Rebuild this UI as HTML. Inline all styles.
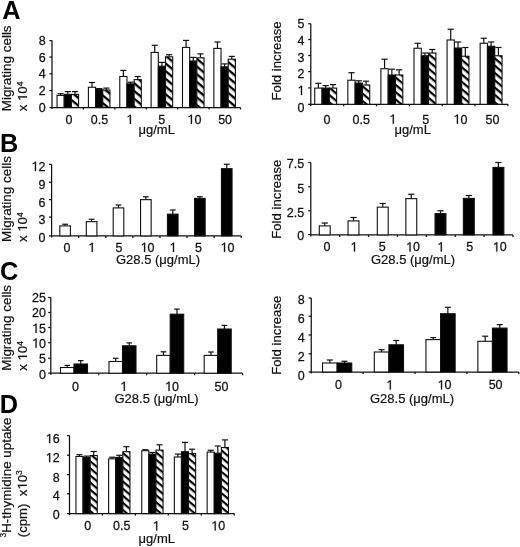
<!DOCTYPE html>
<html><head><meta charset="utf-8"><title>Figure</title>
<style>
html,body{margin:0;padding:0;background:#fff;}
body{width:520px;height:547px;overflow:hidden;}
svg{display:block;will-change:transform;}
.t{font-family:"Liberation Sans", sans-serif;font-size:13px;fill:#111;stroke:#111;stroke-width:0.2px;}
.n{font-family:"Liberation Sans", sans-serif;font-size:12.5px;fill:#111;stroke:#111;stroke-width:0.25px;}
.r{font-family:"Liberation Sans", sans-serif;font-size:13.2px;fill:#111;stroke:#111;stroke-width:0.2px;}
.L{font-family:"Liberation Sans", sans-serif;font-size:25.3px;font-weight:bold;fill:#000;}
.ax{stroke:#111;stroke-width:1.25;fill:none;}
.eb{stroke:#111;stroke-width:1.2;fill:none;}
.br{stroke:#111;stroke-width:1.1;}
</style></head>
<body>
<svg width="520" height="547" viewBox="0 0 520 547">
<defs>
<pattern id="hAL" patternUnits="userSpaceOnUse" width="20" height="5.90" patternTransform="rotate(40)"><rect x="0" y="0" width="20" height="5.90" fill="#fff"/><rect x="0" y="0" width="20" height="2.30" fill="#000"/></pattern>
<pattern id="hAR" patternUnits="userSpaceOnUse" width="20" height="5.60" patternTransform="rotate(40)"><rect x="0" y="0" width="20" height="5.60" fill="#fff"/><rect x="0" y="0" width="20" height="2.20" fill="#000"/></pattern>
<pattern id="hD" patternUnits="userSpaceOnUse" width="20" height="5.45" patternTransform="rotate(40)"><rect x="0" y="0" width="20" height="5.45" fill="#fff"/><rect x="0" y="0" width="20" height="2.15" fill="#000"/></pattern>
</defs>
<rect x="0" y="0" width="520" height="547" fill="#fff"/>
<text x="2.3" y="19.4" class="L">A</text>
<text x="0" y="152" class="L">B</text>
<text x="0" y="280" class="L">C</text>
<text x="-0.2" y="412.9" class="L">D</text>
<line x1="52" y1="40.6" x2="52" y2="109.1" class="ax"/>
<line x1="49.4" y1="107.5" x2="52" y2="107.5" class="ax"/>
<text transform="translate(45.6,111.98) scale(1,1.07)" class="n" text-anchor="end">0</text>
<line x1="49.4" y1="90.6" x2="52" y2="90.6" class="ax"/>
<text transform="translate(45.6,95.43) scale(1,1.07)" class="n" text-anchor="end">2</text>
<line x1="49.4" y1="73.8" x2="52" y2="73.8" class="ax"/>
<text transform="translate(45.6,78.33) scale(1,1.07)" class="n" text-anchor="end">4</text>
<line x1="49.4" y1="57.1" x2="52" y2="57.1" class="ax"/>
<text transform="translate(45.6,61.98) scale(1,1.07)" class="n" text-anchor="end">6</text>
<line x1="49.4" y1="40.6" x2="52" y2="40.6" class="ax"/>
<text transform="translate(45.6,45.33) scale(1,1.07)" class="n" text-anchor="end">8</text>
<line x1="51.5" y1="107.5" x2="240.5" y2="107.5" class="ax"/>
<line x1="83.42" y1="107.5" x2="83.42" y2="109.5" class="ax"/>
<line x1="114.83" y1="107.5" x2="114.83" y2="109.5" class="ax"/>
<line x1="146.25" y1="107.5" x2="146.25" y2="109.5" class="ax"/>
<line x1="177.67" y1="107.5" x2="177.67" y2="109.5" class="ax"/>
<line x1="209.08" y1="107.5" x2="209.08" y2="109.5" class="ax"/>
<line x1="240.5" y1="107.5" x2="240.5" y2="109.5" class="ax"/>
<line x1="60.64" y1="93.75" x2="60.64" y2="95.4" class="eb"/>
<line x1="57.59" y1="93.75" x2="63.69" y2="93.75" class="eb"/>
<rect x="57.05" y="95.4" width="7.18" height="12.1" fill="#fff" class="br"/>
<line x1="67.82" y1="91.6" x2="67.82" y2="94.4" class="eb"/>
<line x1="64.77" y1="91.6" x2="70.87" y2="91.6" class="eb"/>
<rect x="64.23" y="94.4" width="7.18" height="13.1" fill="#000" class="br"/>
<line x1="75" y1="91.6" x2="75" y2="94.4" class="eb"/>
<line x1="71.95" y1="91.6" x2="78.05" y2="91.6" class="eb"/>
<rect x="71.41" y="94.4" width="7.18" height="13.1" fill="url(#hAL)" class="br"/>
<line x1="92" y1="82.5" x2="92" y2="87.25" class="eb"/>
<line x1="88.95" y1="82.5" x2="95.05" y2="82.5" class="eb"/>
<rect x="88.41" y="87.25" width="7.18" height="20.25" fill="#fff" class="br"/>
<line x1="99.18" y1="88.6" x2="99.18" y2="89.4" class="eb"/>
<line x1="96.13" y1="88.6" x2="102.23" y2="88.6" class="eb"/>
<rect x="95.59" y="89.4" width="7.18" height="18.1" fill="#000" class="br"/>
<line x1="106.36" y1="88.1" x2="106.36" y2="90" class="eb"/>
<line x1="103.31" y1="88.1" x2="109.41" y2="88.1" class="eb"/>
<rect x="102.77" y="90" width="7.18" height="17.5" fill="url(#hAL)" class="br"/>
<line x1="123.36" y1="70.4" x2="123.36" y2="76.5" class="eb"/>
<line x1="120.31" y1="70.4" x2="126.41" y2="70.4" class="eb"/>
<rect x="119.77" y="76.5" width="7.18" height="31" fill="#fff" class="br"/>
<line x1="130.54" y1="82.2" x2="130.54" y2="83.9" class="eb"/>
<line x1="127.49" y1="82.2" x2="133.59" y2="82.2" class="eb"/>
<rect x="126.95" y="83.9" width="7.18" height="23.6" fill="#000" class="br"/>
<line x1="137.72" y1="76.5" x2="137.72" y2="79.6" class="eb"/>
<line x1="134.67" y1="76.5" x2="140.77" y2="76.5" class="eb"/>
<rect x="134.13" y="79.6" width="7.18" height="27.9" fill="url(#hAL)" class="br"/>
<line x1="154.72" y1="45.3" x2="154.72" y2="52.4" class="eb"/>
<line x1="151.67" y1="45.3" x2="157.77" y2="45.3" class="eb"/>
<rect x="151.13" y="52.4" width="7.18" height="55.1" fill="#fff" class="br"/>
<line x1="161.9" y1="62.4" x2="161.9" y2="66.2" class="eb"/>
<line x1="158.85" y1="62.4" x2="164.95" y2="62.4" class="eb"/>
<rect x="158.31" y="66.2" width="7.18" height="41.3" fill="#000" class="br"/>
<line x1="169.08" y1="54.7" x2="169.08" y2="56.8" class="eb"/>
<line x1="166.03" y1="54.7" x2="172.13" y2="54.7" class="eb"/>
<rect x="165.49" y="56.8" width="7.18" height="50.7" fill="url(#hAL)" class="br"/>
<line x1="186.08" y1="40.4" x2="186.08" y2="47.4" class="eb"/>
<line x1="183.03" y1="40.4" x2="189.13" y2="40.4" class="eb"/>
<rect x="182.49" y="47.4" width="7.18" height="60.1" fill="#fff" class="br"/>
<line x1="193.26" y1="57.4" x2="193.26" y2="61" class="eb"/>
<line x1="190.21" y1="57.4" x2="196.31" y2="57.4" class="eb"/>
<rect x="189.67" y="61" width="7.18" height="46.5" fill="#000" class="br"/>
<line x1="200.44" y1="53.9" x2="200.44" y2="57.8" class="eb"/>
<line x1="197.39" y1="53.9" x2="203.49" y2="53.9" class="eb"/>
<rect x="196.85" y="57.8" width="7.18" height="49.7" fill="url(#hAL)" class="br"/>
<line x1="217.44" y1="42" x2="217.44" y2="48.4" class="eb"/>
<line x1="214.39" y1="42" x2="220.49" y2="42" class="eb"/>
<rect x="213.85" y="48.4" width="7.18" height="59.1" fill="#fff" class="br"/>
<line x1="224.62" y1="63.9" x2="224.62" y2="66.8" class="eb"/>
<line x1="221.57" y1="63.9" x2="227.67" y2="63.9" class="eb"/>
<rect x="221.03" y="66.8" width="7.18" height="40.7" fill="#000" class="br"/>
<line x1="231.8" y1="56.4" x2="231.8" y2="59.2" class="eb"/>
<line x1="228.75" y1="56.4" x2="234.85" y2="56.4" class="eb"/>
<rect x="228.21" y="59.2" width="7.18" height="48.3" fill="url(#hAL)" class="br"/>
<text transform="translate(69,123.88) scale(1,1.07)" class="n" text-anchor="middle">0</text>
<text transform="translate(99.4,123.88) scale(1,1.07)" class="n" text-anchor="middle">0.5</text>
<text transform="translate(129.9,123.88) scale(1,1.07)" class="n" text-anchor="middle">&#8199;</text><g transform="translate(129.9,123.88) scale(1,1.07)" fill="#111" stroke="#111" stroke-width="0.25"><path d="M-0.06 0.00V-7.45Q-0.55 -6.96 -1.16 -6.62Q-1.71 -6.32 -2.17 -6.16V-7.14Q-1.28 -7.51 -0.73 -7.93Q-0.18 -8.36 0.06 -8.60H1.04V0.00Z"/></g>
<text transform="translate(161.6,123.88) scale(1,1.07)" class="n" text-anchor="middle">5</text>
<text transform="translate(194.4,123.88) scale(1,1.07)" class="n" text-anchor="middle">&#8199;0</text><g transform="translate(194.4,123.88) scale(1,1.07)" fill="#111" stroke="#111" stroke-width="0.25"><path d="M-3.53 0.00V-7.45Q-4.02 -6.96 -4.63 -6.62Q-5.18 -6.32 -5.64 -6.16V-7.14Q-4.75 -7.51 -4.20 -7.93Q-3.65 -8.36 -3.41 -8.60H-2.43V0.00Z"/></g>
<text transform="translate(225.1,123.88) scale(1,1.07)" class="n" text-anchor="middle">50</text>
<text x="156.7" y="133.5" class="t" text-anchor="middle">μg/mL</text>
<text transform="translate(11,111.3) rotate(-90)" class="r" style="font-size:13.45px" text-anchor="start">Migrating cells</text>
<text transform="translate(27,111.3) rotate(-90)" class="r" text-anchor="start">x &#8199;0<tspan font-size="8.5" dy="-3.8">4</tspan></text><g transform="translate(27,111.3) rotate(-90)" fill="#111" stroke="#111" stroke-width="0.2"><path d="M13.86 0.00V-7.86Q13.34 -7.35 12.70 -6.99Q12.12 -6.67 11.64 -6.51V-7.54Q12.57 -7.93 13.15 -8.38Q13.73 -8.83 13.99 -9.08H15.03V0.00Z"/></g>
<line x1="310.8" y1="23.75" x2="310.8" y2="105.9" class="ax"/>
<line x1="308.2" y1="104.3" x2="310.8" y2="104.3" class="ax"/>
<text transform="translate(304.5,111.88) scale(1,1.07)" class="n" text-anchor="end">0</text>
<line x1="308.2" y1="87.9" x2="310.8" y2="87.9" class="ax"/>
<text transform="translate(304.5,94.98) scale(1,1.07)" class="n" text-anchor="end">&#8199;</text><g transform="translate(304.5,94.98) scale(1,1.07)" fill="#111" stroke="#111" stroke-width="0.25"><path d="M-3.54 0.00V-7.45Q-4.03 -6.96 -4.64 -6.62Q-5.19 -6.32 -5.64 -6.16V-7.14Q-4.76 -7.51 -4.21 -7.93Q-3.66 -8.36 -3.42 -8.60H-2.43V0.00Z"/></g>
<line x1="308.2" y1="71.6" x2="310.8" y2="71.6" class="ax"/>
<text transform="translate(304.5,78.38) scale(1,1.07)" class="n" text-anchor="end">2</text>
<line x1="308.2" y1="55.5" x2="310.8" y2="55.5" class="ax"/>
<text transform="translate(304.5,61.68) scale(1,1.07)" class="n" text-anchor="end">3</text>
<line x1="308.2" y1="39.5" x2="310.8" y2="39.5" class="ax"/>
<text transform="translate(304.5,44.78) scale(1,1.07)" class="n" text-anchor="end">4</text>
<line x1="308.2" y1="23.75" x2="310.8" y2="23.75" class="ax"/>
<text transform="translate(304.5,28.38) scale(1,1.07)" class="n" text-anchor="end">5</text>
<line x1="310.3" y1="104.3" x2="507.9" y2="104.3" class="ax"/>
<line x1="343.65" y1="104.3" x2="343.65" y2="106.3" class="ax"/>
<line x1="376.5" y1="104.3" x2="376.5" y2="106.3" class="ax"/>
<line x1="409.35" y1="104.3" x2="409.35" y2="106.3" class="ax"/>
<line x1="442.2" y1="104.3" x2="442.2" y2="106.3" class="ax"/>
<line x1="475.05" y1="104.3" x2="475.05" y2="106.3" class="ax"/>
<line x1="507.9" y1="104.3" x2="507.9" y2="106.3" class="ax"/>
<line x1="318.4" y1="83.3" x2="318.4" y2="88.1" class="eb"/>
<line x1="315.3" y1="83.3" x2="321.5" y2="83.3" class="eb"/>
<rect x="314.75" y="88.1" width="7.3" height="16.2" fill="#fff" class="br"/>
<line x1="325.7" y1="85.6" x2="325.7" y2="88.1" class="eb"/>
<line x1="322.6" y1="85.6" x2="328.8" y2="85.6" class="eb"/>
<rect x="322.05" y="88.1" width="7.3" height="16.2" fill="#000" class="br"/>
<line x1="333" y1="84.6" x2="333" y2="88.1" class="eb"/>
<line x1="329.9" y1="84.6" x2="336.1" y2="84.6" class="eb"/>
<rect x="329.35" y="88.1" width="7.3" height="16.2" fill="url(#hAR)" class="br"/>
<line x1="351.48" y1="72.7" x2="351.48" y2="80.2" class="eb"/>
<line x1="348.38" y1="72.7" x2="354.58" y2="72.7" class="eb"/>
<rect x="347.83" y="80.2" width="7.3" height="24.1" fill="#fff" class="br"/>
<line x1="358.78" y1="80.8" x2="358.78" y2="83.1" class="eb"/>
<line x1="355.68" y1="80.8" x2="361.88" y2="80.8" class="eb"/>
<rect x="355.13" y="83.1" width="7.3" height="21.2" fill="#000" class="br"/>
<line x1="366.08" y1="81.2" x2="366.08" y2="85" class="eb"/>
<line x1="362.98" y1="81.2" x2="369.18" y2="81.2" class="eb"/>
<rect x="362.43" y="85" width="7.3" height="19.3" fill="url(#hAR)" class="br"/>
<line x1="384.56" y1="59.2" x2="384.56" y2="68.7" class="eb"/>
<line x1="381.46" y1="59.2" x2="387.66" y2="59.2" class="eb"/>
<rect x="380.91" y="68.7" width="7.3" height="35.6" fill="#fff" class="br"/>
<line x1="391.86" y1="69.2" x2="391.86" y2="75" class="eb"/>
<line x1="388.76" y1="69.2" x2="394.96" y2="69.2" class="eb"/>
<rect x="388.21" y="75" width="7.3" height="29.3" fill="#000" class="br"/>
<line x1="399.16" y1="69.8" x2="399.16" y2="75" class="eb"/>
<line x1="396.06" y1="69.8" x2="402.26" y2="69.8" class="eb"/>
<rect x="395.51" y="75" width="7.3" height="29.3" fill="url(#hAR)" class="br"/>
<line x1="417.64" y1="43.25" x2="417.64" y2="48.25" class="eb"/>
<line x1="414.54" y1="43.25" x2="420.74" y2="43.25" class="eb"/>
<rect x="413.99" y="48.25" width="7.3" height="56.05" fill="#fff" class="br"/>
<line x1="424.94" y1="53" x2="424.94" y2="55.75" class="eb"/>
<line x1="421.84" y1="53" x2="428.04" y2="53" class="eb"/>
<rect x="421.29" y="55.75" width="7.3" height="48.55" fill="#000" class="br"/>
<line x1="432.24" y1="49.5" x2="432.24" y2="53" class="eb"/>
<line x1="429.14" y1="49.5" x2="435.34" y2="49.5" class="eb"/>
<rect x="428.59" y="53" width="7.3" height="51.3" fill="url(#hAR)" class="br"/>
<line x1="450.72" y1="29.25" x2="450.72" y2="40" class="eb"/>
<line x1="447.62" y1="29.25" x2="453.82" y2="29.25" class="eb"/>
<rect x="447.07" y="40" width="7.3" height="64.3" fill="#fff" class="br"/>
<line x1="458.02" y1="42" x2="458.02" y2="48" class="eb"/>
<line x1="454.92" y1="42" x2="461.12" y2="42" class="eb"/>
<rect x="454.37" y="48" width="7.3" height="56.3" fill="#000" class="br"/>
<line x1="465.32" y1="47.5" x2="465.32" y2="56.25" class="eb"/>
<line x1="462.22" y1="47.5" x2="468.42" y2="47.5" class="eb"/>
<rect x="461.67" y="56.25" width="7.3" height="48.05" fill="url(#hAR)" class="br"/>
<line x1="483.8" y1="38.25" x2="483.8" y2="43.25" class="eb"/>
<line x1="480.7" y1="38.25" x2="486.9" y2="38.25" class="eb"/>
<rect x="480.15" y="43.25" width="7.3" height="61.05" fill="#fff" class="br"/>
<line x1="491.1" y1="42" x2="491.1" y2="46.25" class="eb"/>
<line x1="488" y1="42" x2="494.2" y2="42" class="eb"/>
<rect x="487.45" y="46.25" width="7.3" height="58.05" fill="#000" class="br"/>
<line x1="498.4" y1="47.5" x2="498.4" y2="55.75" class="eb"/>
<line x1="495.3" y1="47.5" x2="501.5" y2="47.5" class="eb"/>
<rect x="494.75" y="55.75" width="7.3" height="48.55" fill="url(#hAR)" class="br"/>
<text transform="translate(327,123.68) scale(1,1.07)" class="n" text-anchor="middle">0</text>
<text transform="translate(361.2,123.68) scale(1,1.07)" class="n" text-anchor="middle">0.5</text>
<text transform="translate(392.8,123.68) scale(1,1.07)" class="n" text-anchor="middle">&#8199;</text><g transform="translate(392.8,123.68) scale(1,1.07)" fill="#111" stroke="#111" stroke-width="0.25"><path d="M-0.06 0.00V-7.45Q-0.55 -6.96 -1.16 -6.62Q-1.71 -6.32 -2.17 -6.16V-7.14Q-1.28 -7.51 -0.73 -7.93Q-0.18 -8.36 0.06 -8.60H1.04V0.00Z"/></g>
<text transform="translate(425.8,123.68) scale(1,1.07)" class="n" text-anchor="middle">5</text>
<text transform="translate(460.4,123.68) scale(1,1.07)" class="n" text-anchor="middle">&#8199;0</text><g transform="translate(460.4,123.68) scale(1,1.07)" fill="#111" stroke="#111" stroke-width="0.25"><path d="M-3.53 0.00V-7.45Q-4.02 -6.96 -4.63 -6.62Q-5.18 -6.32 -5.64 -6.16V-7.14Q-4.75 -7.51 -4.20 -7.93Q-3.65 -8.36 -3.41 -8.60H-2.43V0.00Z"/></g>
<text transform="translate(492.5,123.68) scale(1,1.07)" class="n" text-anchor="middle">50</text>
<text x="412.7" y="134.2" class="t" text-anchor="middle">μg/mL</text>
<text transform="translate(281,100.5) rotate(-90)" class="r" text-anchor="start">Fold increase</text>
<line x1="51.6" y1="164.4" x2="51.6" y2="237.5" class="ax"/>
<line x1="49" y1="235.9" x2="51.6" y2="235.9" class="ax"/>
<text transform="translate(45.4,242.18) scale(1,1.07)" class="n" text-anchor="end">0</text>
<line x1="49" y1="217.1" x2="51.6" y2="217.1" class="ax"/>
<text transform="translate(45.4,224.38) scale(1,1.07)" class="n" text-anchor="end">3</text>
<line x1="49" y1="199.6" x2="51.6" y2="199.6" class="ax"/>
<text transform="translate(45.4,206.68) scale(1,1.07)" class="n" text-anchor="end">6</text>
<line x1="49" y1="182.2" x2="51.6" y2="182.2" class="ax"/>
<text transform="translate(45.4,188.68) scale(1,1.07)" class="n" text-anchor="end">9</text>
<line x1="49" y1="164.4" x2="51.6" y2="164.4" class="ax"/>
<text transform="translate(45.4,170.88) scale(1,1.07)" class="n" text-anchor="end">&#8199;2</text><g transform="translate(45.4,170.88) scale(1,1.07)" fill="#111" stroke="#111" stroke-width="0.25"><path d="M-10.48 0.00V-7.45Q-10.97 -6.96 -11.58 -6.62Q-12.13 -6.32 -12.58 -6.16V-7.14Q-11.70 -7.51 -11.15 -7.93Q-10.60 -8.36 -10.36 -8.60H-9.37V0.00Z"/></g>
<line x1="51.1" y1="235.9" x2="241.25" y2="235.9" class="ax"/>
<line x1="78.69" y1="235.9" x2="78.69" y2="237.9" class="ax"/>
<line x1="105.79" y1="235.9" x2="105.79" y2="237.9" class="ax"/>
<line x1="132.88" y1="235.9" x2="132.88" y2="237.9" class="ax"/>
<line x1="159.97" y1="235.9" x2="159.97" y2="237.9" class="ax"/>
<line x1="187.06" y1="235.9" x2="187.06" y2="237.9" class="ax"/>
<line x1="214.16" y1="235.9" x2="214.16" y2="237.9" class="ax"/>
<line x1="241.25" y1="235.9" x2="241.25" y2="237.9" class="ax"/>
<line x1="65.1" y1="224.25" x2="65.1" y2="225.9" class="eb"/>
<line x1="62.2" y1="224.25" x2="68" y2="224.25" class="eb"/>
<rect x="59.8" y="225.9" width="10.6" height="10" fill="#fff" class="br"/>
<line x1="91.6" y1="219.25" x2="91.6" y2="221.65" class="eb"/>
<line x1="88.7" y1="219.25" x2="94.5" y2="219.25" class="eb"/>
<rect x="86.3" y="221.65" width="10.6" height="14.25" fill="#fff" class="br"/>
<line x1="118.5" y1="205" x2="118.5" y2="207.9" class="eb"/>
<line x1="115.6" y1="205" x2="121.4" y2="205" class="eb"/>
<rect x="113.2" y="207.9" width="10.6" height="28" fill="#fff" class="br"/>
<line x1="145.85" y1="196.75" x2="145.85" y2="199.65" class="eb"/>
<line x1="142.95" y1="196.75" x2="148.75" y2="196.75" class="eb"/>
<rect x="140.55" y="199.65" width="10.6" height="36.25" fill="#fff" class="br"/>
<line x1="172.75" y1="210" x2="172.75" y2="214.15" class="eb"/>
<line x1="169.85" y1="210" x2="175.65" y2="210" class="eb"/>
<rect x="167.45" y="214.15" width="10.6" height="21.75" fill="#000" class="br"/>
<line x1="199.85" y1="196.75" x2="199.85" y2="198.4" class="eb"/>
<line x1="196.95" y1="196.75" x2="202.75" y2="196.75" class="eb"/>
<rect x="194.55" y="198.4" width="10.6" height="37.5" fill="#000" class="br"/>
<line x1="226.75" y1="164.25" x2="226.75" y2="168.65" class="eb"/>
<line x1="223.85" y1="164.25" x2="229.65" y2="164.25" class="eb"/>
<rect x="221.45" y="168.65" width="10.6" height="67.25" fill="#000" class="br"/>
<text transform="translate(66.9,251.98) scale(1,1.07)" class="n" text-anchor="middle">0</text>
<text transform="translate(91.8,251.98) scale(1,1.07)" class="n" text-anchor="middle">&#8199;</text><g transform="translate(91.8,251.98) scale(1,1.07)" fill="#111" stroke="#111" stroke-width="0.25"><path d="M-0.06 0.00V-7.45Q-0.55 -6.96 -1.16 -6.62Q-1.71 -6.32 -2.17 -6.16V-7.14Q-1.28 -7.51 -0.73 -7.93Q-0.18 -8.36 0.06 -8.60H1.04V0.00Z"/></g>
<text transform="translate(119,251.98) scale(1,1.07)" class="n" text-anchor="middle">5</text>
<text transform="translate(147.6,251.98) scale(1,1.07)" class="n" text-anchor="middle">&#8199;0</text><g transform="translate(147.6,251.98) scale(1,1.07)" fill="#111" stroke="#111" stroke-width="0.25"><path d="M-3.53 0.00V-7.45Q-4.02 -6.96 -4.63 -6.62Q-5.18 -6.32 -5.64 -6.16V-7.14Q-4.75 -7.51 -4.20 -7.93Q-3.65 -8.36 -3.41 -8.60H-2.43V0.00Z"/></g>
<text transform="translate(173,251.98) scale(1,1.07)" class="n" text-anchor="middle">&#8199;</text><g transform="translate(173,251.98) scale(1,1.07)" fill="#111" stroke="#111" stroke-width="0.25"><path d="M-0.06 0.00V-7.45Q-0.55 -6.96 -1.16 -6.62Q-1.71 -6.32 -2.17 -6.16V-7.14Q-1.28 -7.51 -0.73 -7.93Q-0.18 -8.36 0.06 -8.60H1.04V0.00Z"/></g>
<text transform="translate(198.4,251.98) scale(1,1.07)" class="n" text-anchor="middle">5</text>
<text transform="translate(227.5,251.98) scale(1,1.07)" class="n" text-anchor="middle">&#8199;0</text><g transform="translate(227.5,251.98) scale(1,1.07)" fill="#111" stroke="#111" stroke-width="0.25"><path d="M-3.53 0.00V-7.45Q-4.02 -6.96 -4.63 -6.62Q-5.18 -6.32 -5.64 -6.16V-7.14Q-4.75 -7.51 -4.20 -7.93Q-3.65 -8.36 -3.41 -8.60H-2.43V0.00Z"/></g>
<text x="158" y="264.4" class="t" text-anchor="middle">G28.5 (μg/mL)</text>
<text transform="translate(10.8,242) rotate(-90)" class="r" style="font-size:13.45px" text-anchor="start">Migrating cells</text>
<text transform="translate(27,242) rotate(-90)" class="r" text-anchor="start">x &#8199;0<tspan font-size="8.5" dy="-3.8">4</tspan></text><g transform="translate(27,242) rotate(-90)" fill="#111" stroke="#111" stroke-width="0.2"><path d="M13.86 0.00V-7.86Q13.34 -7.35 12.70 -6.99Q12.12 -6.67 11.64 -6.51V-7.54Q12.57 -7.93 13.15 -8.38Q13.73 -8.83 13.99 -9.08H15.03V0.00Z"/></g>
<line x1="310.8" y1="162.5" x2="310.8" y2="236.5" class="ax"/>
<line x1="308.2" y1="234.6" x2="310.8" y2="234.6" class="ax"/>
<text transform="translate(304.1,239.88) scale(1,1.07)" class="n" text-anchor="end">0</text>
<line x1="308.2" y1="210.75" x2="310.8" y2="210.75" class="ax"/>
<text transform="translate(304.1,217.08) scale(1,1.07)" class="n" text-anchor="end">2.5</text>
<line x1="308.2" y1="186.75" x2="310.8" y2="186.75" class="ax"/>
<text transform="translate(304.1,193.18) scale(1,1.07)" class="n" text-anchor="end">5</text>
<line x1="308.2" y1="162.5" x2="310.8" y2="162.5" class="ax"/>
<text transform="translate(304.1,167.78) scale(1,1.07)" class="n" text-anchor="end">7.5</text>
<line x1="310.3" y1="234.9" x2="513" y2="234.9" class="ax"/>
<line x1="339.69" y1="234.9" x2="339.69" y2="236.9" class="ax"/>
<line x1="368.57" y1="234.9" x2="368.57" y2="236.9" class="ax"/>
<line x1="397.46" y1="234.9" x2="397.46" y2="236.9" class="ax"/>
<line x1="426.34" y1="234.9" x2="426.34" y2="236.9" class="ax"/>
<line x1="455.23" y1="234.9" x2="455.23" y2="236.9" class="ax"/>
<line x1="484.11" y1="234.9" x2="484.11" y2="236.9" class="ax"/>
<line x1="513" y1="234.9" x2="513" y2="236.9" class="ax"/>
<line x1="324.75" y1="223" x2="324.75" y2="225.9" class="eb"/>
<line x1="321.65" y1="223" x2="327.85" y2="223" class="eb"/>
<rect x="319.3" y="225.9" width="10.9" height="9" fill="#fff" class="br"/>
<line x1="353.5" y1="217.5" x2="353.5" y2="220.9" class="eb"/>
<line x1="350.4" y1="217.5" x2="356.6" y2="217.5" class="eb"/>
<rect x="348.05" y="220.9" width="10.9" height="14" fill="#fff" class="br"/>
<line x1="382.75" y1="203.5" x2="382.75" y2="207.15" class="eb"/>
<line x1="379.65" y1="203.5" x2="385.85" y2="203.5" class="eb"/>
<rect x="377.3" y="207.15" width="10.9" height="27.75" fill="#fff" class="br"/>
<line x1="411.3" y1="194.25" x2="411.3" y2="198.65" class="eb"/>
<line x1="408.2" y1="194.25" x2="414.4" y2="194.25" class="eb"/>
<rect x="405.85" y="198.65" width="10.9" height="36.25" fill="#fff" class="br"/>
<line x1="440.5" y1="210.75" x2="440.5" y2="213.65" class="eb"/>
<line x1="437.4" y1="210.75" x2="443.6" y2="210.75" class="eb"/>
<rect x="435.05" y="213.65" width="10.9" height="21.25" fill="#000" class="br"/>
<line x1="468.8" y1="195.5" x2="468.8" y2="198.4" class="eb"/>
<line x1="465.7" y1="195.5" x2="471.9" y2="195.5" class="eb"/>
<rect x="463.35" y="198.4" width="10.9" height="36.5" fill="#000" class="br"/>
<line x1="498.4" y1="162.5" x2="498.4" y2="167.4" class="eb"/>
<line x1="495.3" y1="162.5" x2="501.5" y2="162.5" class="eb"/>
<rect x="492.95" y="167.4" width="10.9" height="67.5" fill="#000" class="br"/>
<text transform="translate(326.9,251.48) scale(1,1.07)" class="n" text-anchor="middle">0</text>
<text transform="translate(354,251.48) scale(1,1.07)" class="n" text-anchor="middle">&#8199;</text><g transform="translate(354,251.48) scale(1,1.07)" fill="#111" stroke="#111" stroke-width="0.25"><path d="M-0.06 0.00V-7.45Q-0.55 -6.96 -1.16 -6.62Q-1.71 -6.32 -2.17 -6.16V-7.14Q-1.28 -7.51 -0.73 -7.93Q-0.18 -8.36 0.06 -8.60H1.04V0.00Z"/></g>
<text transform="translate(382.3,251.48) scale(1,1.07)" class="n" text-anchor="middle">5</text>
<text transform="translate(413,251.48) scale(1,1.07)" class="n" text-anchor="middle">&#8199;0</text><g transform="translate(413,251.48) scale(1,1.07)" fill="#111" stroke="#111" stroke-width="0.25"><path d="M-3.53 0.00V-7.45Q-4.02 -6.96 -4.63 -6.62Q-5.18 -6.32 -5.64 -6.16V-7.14Q-4.75 -7.51 -4.20 -7.93Q-3.65 -8.36 -3.41 -8.60H-2.43V0.00Z"/></g>
<text transform="translate(440.8,251.48) scale(1,1.07)" class="n" text-anchor="middle">&#8199;</text><g transform="translate(440.8,251.48) scale(1,1.07)" fill="#111" stroke="#111" stroke-width="0.25"><path d="M-0.06 0.00V-7.45Q-0.55 -6.96 -1.16 -6.62Q-1.71 -6.32 -2.17 -6.16V-7.14Q-1.28 -7.51 -0.73 -7.93Q-0.18 -8.36 0.06 -8.60H1.04V0.00Z"/></g>
<text transform="translate(469.6,251.48) scale(1,1.07)" class="n" text-anchor="middle">5</text>
<text transform="translate(499.8,251.48) scale(1,1.07)" class="n" text-anchor="middle">&#8199;0</text><g transform="translate(499.8,251.48) scale(1,1.07)" fill="#111" stroke="#111" stroke-width="0.25"><path d="M-3.53 0.00V-7.45Q-4.02 -6.96 -4.63 -6.62Q-5.18 -6.32 -5.64 -6.16V-7.14Q-4.75 -7.51 -4.20 -7.93Q-3.65 -8.36 -3.41 -8.60H-2.43V0.00Z"/></g>
<text x="413" y="264.3" class="t" text-anchor="middle">G28.5 (μg/mL)</text>
<text transform="translate(281,238.8) rotate(-90)" class="r" text-anchor="start">Fold increase</text>
<line x1="50.8" y1="297.5" x2="50.8" y2="374.8" class="ax"/>
<line x1="48.2" y1="373.2" x2="50.8" y2="373.2" class="ax"/>
<text transform="translate(46,378.68) scale(1,1.07)" class="n" text-anchor="end">0</text>
<line x1="48.2" y1="358.2" x2="50.8" y2="358.2" class="ax"/>
<text transform="translate(46,363.18) scale(1,1.07)" class="n" text-anchor="end">5</text>
<line x1="48.2" y1="342.7" x2="50.8" y2="342.7" class="ax"/>
<text transform="translate(46,347.68) scale(1,1.07)" class="n" text-anchor="end">&#8199;0</text><g transform="translate(46,347.68) scale(1,1.07)" fill="#111" stroke="#111" stroke-width="0.25"><path d="M-10.48 0.00V-7.45Q-10.97 -6.96 -11.58 -6.62Q-12.13 -6.32 -12.58 -6.16V-7.14Q-11.70 -7.51 -11.15 -7.93Q-10.60 -8.36 -10.36 -8.60H-9.37V0.00Z"/></g>
<line x1="48.2" y1="327.5" x2="50.8" y2="327.5" class="ax"/>
<text transform="translate(46,332.88) scale(1,1.07)" class="n" text-anchor="end">&#8199;5</text><g transform="translate(46,332.88) scale(1,1.07)" fill="#111" stroke="#111" stroke-width="0.25"><path d="M-10.48 0.00V-7.45Q-10.97 -6.96 -11.58 -6.62Q-12.13 -6.32 -12.58 -6.16V-7.14Q-11.70 -7.51 -11.15 -7.93Q-10.60 -8.36 -10.36 -8.60H-9.37V0.00Z"/></g>
<line x1="48.2" y1="312.5" x2="50.8" y2="312.5" class="ax"/>
<text transform="translate(46,317.38) scale(1,1.07)" class="n" text-anchor="end">20</text>
<line x1="48.2" y1="297.5" x2="50.8" y2="297.5" class="ax"/>
<text transform="translate(46,301.68) scale(1,1.07)" class="n" text-anchor="end">25</text>
<line x1="50.3" y1="373.2" x2="242.6" y2="373.2" class="ax"/>
<line x1="98.75" y1="373.2" x2="98.75" y2="375.2" class="ax"/>
<line x1="146.7" y1="373.2" x2="146.7" y2="375.2" class="ax"/>
<line x1="194.65" y1="373.2" x2="194.65" y2="375.2" class="ax"/>
<line x1="242.6" y1="373.2" x2="242.6" y2="375.2" class="ax"/>
<line x1="67.25" y1="365.4" x2="67.25" y2="367.5" class="eb"/>
<line x1="64.45" y1="365.4" x2="70.05" y2="365.4" class="eb"/>
<rect x="60.5" y="367.5" width="13.5" height="5.7" fill="#fff" class="br"/>
<line x1="80.75" y1="360.6" x2="80.75" y2="364" class="eb"/>
<line x1="77.95" y1="360.6" x2="83.55" y2="360.6" class="eb"/>
<rect x="74" y="364" width="13.5" height="9.2" fill="#000" class="br"/>
<line x1="115.75" y1="358.3" x2="115.75" y2="361.5" class="eb"/>
<line x1="112.95" y1="358.3" x2="118.55" y2="358.3" class="eb"/>
<rect x="109" y="361.5" width="13.5" height="11.7" fill="#fff" class="br"/>
<line x1="129.25" y1="342.9" x2="129.25" y2="345.8" class="eb"/>
<line x1="126.45" y1="342.9" x2="132.05" y2="342.9" class="eb"/>
<rect x="122.5" y="345.8" width="13.5" height="27.4" fill="#000" class="br"/>
<line x1="163.45" y1="351.8" x2="163.45" y2="355.4" class="eb"/>
<line x1="160.65" y1="351.8" x2="166.25" y2="351.8" class="eb"/>
<rect x="156.7" y="355.4" width="13.5" height="17.8" fill="#fff" class="br"/>
<line x1="176.95" y1="309.1" x2="176.95" y2="314.2" class="eb"/>
<line x1="174.15" y1="309.1" x2="179.75" y2="309.1" class="eb"/>
<rect x="170.2" y="314.2" width="13.5" height="59" fill="#000" class="br"/>
<line x1="210.95" y1="352" x2="210.95" y2="355.4" class="eb"/>
<line x1="208.15" y1="352" x2="213.75" y2="352" class="eb"/>
<rect x="204.2" y="355.4" width="13.5" height="17.8" fill="#fff" class="br"/>
<line x1="224.45" y1="325.4" x2="224.45" y2="329" class="eb"/>
<line x1="221.65" y1="325.4" x2="227.25" y2="325.4" class="eb"/>
<rect x="217.7" y="329" width="13.5" height="44.2" fill="#000" class="br"/>
<text transform="translate(75.4,390.98) scale(1,1.07)" class="n" text-anchor="middle">0</text>
<text transform="translate(123.8,390.98) scale(1,1.07)" class="n" text-anchor="middle">&#8199;</text><g transform="translate(123.8,390.98) scale(1,1.07)" fill="#111" stroke="#111" stroke-width="0.25"><path d="M-0.06 0.00V-7.45Q-0.55 -6.96 -1.16 -6.62Q-1.71 -6.32 -2.17 -6.16V-7.14Q-1.28 -7.51 -0.73 -7.93Q-0.18 -8.36 0.06 -8.60H1.04V0.00Z"/></g>
<text transform="translate(172,390.98) scale(1,1.07)" class="n" text-anchor="middle">&#8199;0</text><g transform="translate(172,390.98) scale(1,1.07)" fill="#111" stroke="#111" stroke-width="0.25"><path d="M-3.53 0.00V-7.45Q-4.02 -6.96 -4.63 -6.62Q-5.18 -6.32 -5.64 -6.16V-7.14Q-4.75 -7.51 -4.20 -7.93Q-3.65 -8.36 -3.41 -8.60H-2.43V0.00Z"/></g>
<text transform="translate(221.4,390.98) scale(1,1.07)" class="n" text-anchor="middle">50</text>
<text x="156.5" y="402.7" class="t" text-anchor="middle">G28.5 (μg/mL)</text>
<text transform="translate(11,370.8) rotate(-90)" class="r" style="font-size:13.45px" text-anchor="start">Migrating cells</text>
<text transform="translate(27,370.8) rotate(-90)" class="r" text-anchor="start">x &#8199;0<tspan font-size="8.5" dy="-3.8">4</tspan></text><g transform="translate(27,370.8) rotate(-90)" fill="#111" stroke="#111" stroke-width="0.2"><path d="M13.86 0.00V-7.86Q13.34 -7.35 12.70 -6.99Q12.12 -6.67 11.64 -6.51V-7.54Q12.57 -7.93 13.15 -8.38Q13.73 -8.83 13.99 -9.08H15.03V0.00Z"/></g>
<line x1="311.25" y1="298" x2="311.25" y2="373.6" class="ax"/>
<line x1="308.65" y1="372" x2="311.25" y2="372" class="ax"/>
<text transform="translate(304.7,380.18) scale(1,1.07)" class="n" text-anchor="end">0</text>
<line x1="308.65" y1="353.75" x2="311.25" y2="353.75" class="ax"/>
<text transform="translate(304.7,361.38) scale(1,1.07)" class="n" text-anchor="end">2</text>
<line x1="308.65" y1="335" x2="311.25" y2="335" class="ax"/>
<text transform="translate(304.7,342.18) scale(1,1.07)" class="n" text-anchor="end">4</text>
<line x1="308.65" y1="316.25" x2="311.25" y2="316.25" class="ax"/>
<text transform="translate(304.7,322.58) scale(1,1.07)" class="n" text-anchor="end">6</text>
<line x1="308.65" y1="298" x2="311.25" y2="298" class="ax"/>
<text transform="translate(304.7,303.78) scale(1,1.07)" class="n" text-anchor="end">8</text>
<line x1="310.75" y1="372" x2="518.8" y2="372" class="ax"/>
<line x1="363.14" y1="372" x2="363.14" y2="374" class="ax"/>
<line x1="415.02" y1="372" x2="415.02" y2="374" class="ax"/>
<line x1="466.91" y1="372" x2="466.91" y2="374" class="ax"/>
<line x1="518.8" y1="372" x2="518.8" y2="374" class="ax"/>
<line x1="329.85" y1="360" x2="329.85" y2="363" class="eb"/>
<line x1="326.85" y1="360" x2="332.85" y2="360" class="eb"/>
<rect x="322.55" y="363" width="14.6" height="9" fill="#fff" class="br"/>
<line x1="344.45" y1="361.25" x2="344.45" y2="363" class="eb"/>
<line x1="341.45" y1="361.25" x2="347.45" y2="361.25" class="eb"/>
<rect x="337.15" y="363" width="14.6" height="9" fill="#000" class="br"/>
<line x1="381.6" y1="349.7" x2="381.6" y2="352" class="eb"/>
<line x1="378.6" y1="349.7" x2="384.6" y2="349.7" class="eb"/>
<rect x="374.3" y="352" width="14.6" height="20" fill="#fff" class="br"/>
<line x1="396.2" y1="340.5" x2="396.2" y2="344.8" class="eb"/>
<line x1="393.2" y1="340.5" x2="399.2" y2="340.5" class="eb"/>
<rect x="388.9" y="344.8" width="14.6" height="27.2" fill="#000" class="br"/>
<line x1="433.25" y1="337.6" x2="433.25" y2="339.6" class="eb"/>
<line x1="430.25" y1="337.6" x2="436.25" y2="337.6" class="eb"/>
<rect x="425.95" y="339.6" width="14.6" height="32.4" fill="#fff" class="br"/>
<line x1="447.85" y1="307.3" x2="447.85" y2="313.7" class="eb"/>
<line x1="444.85" y1="307.3" x2="450.85" y2="307.3" class="eb"/>
<rect x="440.55" y="313.7" width="14.6" height="58.3" fill="#000" class="br"/>
<line x1="485.15" y1="336.2" x2="485.15" y2="341.3" class="eb"/>
<line x1="482.15" y1="336.2" x2="488.15" y2="336.2" class="eb"/>
<rect x="477.85" y="341.3" width="14.6" height="30.7" fill="#fff" class="br"/>
<line x1="499.75" y1="324.6" x2="499.75" y2="328.1" class="eb"/>
<line x1="496.75" y1="324.6" x2="502.75" y2="324.6" class="eb"/>
<rect x="492.45" y="328.1" width="14.6" height="43.9" fill="#000" class="br"/>
<text transform="translate(338.4,389.48) scale(1,1.07)" class="n" text-anchor="middle">0</text>
<text transform="translate(389.8,389.48) scale(1,1.07)" class="n" text-anchor="middle">&#8199;</text><g transform="translate(389.8,389.48) scale(1,1.07)" fill="#111" stroke="#111" stroke-width="0.25"><path d="M-0.06 0.00V-7.45Q-0.55 -6.96 -1.16 -6.62Q-1.71 -6.32 -2.17 -6.16V-7.14Q-1.28 -7.51 -0.73 -7.93Q-0.18 -8.36 0.06 -8.60H1.04V0.00Z"/></g>
<text transform="translate(444.5,389.48) scale(1,1.07)" class="n" text-anchor="middle">&#8199;0</text><g transform="translate(444.5,389.48) scale(1,1.07)" fill="#111" stroke="#111" stroke-width="0.25"><path d="M-3.53 0.00V-7.45Q-4.02 -6.96 -4.63 -6.62Q-5.18 -6.32 -5.64 -6.16V-7.14Q-4.75 -7.51 -4.20 -7.93Q-3.65 -8.36 -3.41 -8.60H-2.43V0.00Z"/></g>
<text transform="translate(495.6,389.48) scale(1,1.07)" class="n" text-anchor="middle">50</text>
<text x="412" y="402.8" class="t" text-anchor="middle">G28.5 (μg/mL)</text>
<text transform="translate(281,374.8) rotate(-90)" class="r" text-anchor="start">Fold increase</text>
<line x1="69.5" y1="435.6" x2="69.5" y2="515.2" class="ax"/>
<line x1="66.9" y1="513.6" x2="69.5" y2="513.6" class="ax"/>
<text transform="translate(59.6,519.28) scale(1,1.07)" class="n" text-anchor="end">0</text>
<line x1="66.9" y1="493.8" x2="69.5" y2="493.8" class="ax"/>
<text transform="translate(59.6,499.78) scale(1,1.07)" class="n" text-anchor="end">4</text>
<line x1="66.9" y1="474.6" x2="69.5" y2="474.6" class="ax"/>
<text transform="translate(59.6,481.68) scale(1,1.07)" class="n" text-anchor="end">8</text>
<line x1="66.9" y1="455.2" x2="69.5" y2="455.2" class="ax"/>
<text transform="translate(59.6,462.28) scale(1,1.07)" class="n" text-anchor="end">&#8199;2</text><g transform="translate(59.6,462.28) scale(1,1.07)" fill="#111" stroke="#111" stroke-width="0.25"><path d="M-10.48 0.00V-7.45Q-10.97 -6.96 -11.58 -6.62Q-12.13 -6.32 -12.58 -6.16V-7.14Q-11.70 -7.51 -11.15 -7.93Q-10.60 -8.36 -10.36 -8.60H-9.37V0.00Z"/></g>
<line x1="66.9" y1="435.6" x2="69.5" y2="435.6" class="ax"/>
<text transform="translate(59.6,443.18) scale(1,1.07)" class="n" text-anchor="end">&#8199;6</text><g transform="translate(59.6,443.18) scale(1,1.07)" fill="#111" stroke="#111" stroke-width="0.25"><path d="M-10.48 0.00V-7.45Q-10.97 -6.96 -11.58 -6.62Q-12.13 -6.32 -12.58 -6.16V-7.14Q-11.70 -7.51 -11.15 -7.93Q-10.60 -8.36 -10.36 -8.60H-9.37V0.00Z"/></g>
<line x1="69" y1="513.6" x2="234.2" y2="513.6" class="ax"/>
<line x1="102.44" y1="513.6" x2="102.44" y2="515.6" class="ax"/>
<line x1="135.38" y1="513.6" x2="135.38" y2="515.6" class="ax"/>
<line x1="168.32" y1="513.6" x2="168.32" y2="515.6" class="ax"/>
<line x1="201.26" y1="513.6" x2="201.26" y2="515.6" class="ax"/>
<line x1="234.2" y1="513.6" x2="234.2" y2="515.6" class="ax"/>
<line x1="79.5" y1="454.7" x2="79.5" y2="456.5" class="eb"/>
<line x1="76.48" y1="454.7" x2="82.52" y2="454.7" class="eb"/>
<rect x="75.95" y="456.5" width="7.1" height="57.1" fill="#fff" class="br"/>
<line x1="86.6" y1="456.1" x2="86.6" y2="457.4" class="eb"/>
<line x1="83.58" y1="456.1" x2="89.62" y2="456.1" class="eb"/>
<rect x="83.05" y="457.4" width="7.1" height="56.2" fill="#000" class="br"/>
<line x1="93.7" y1="451.5" x2="93.7" y2="455.5" class="eb"/>
<line x1="90.68" y1="451.5" x2="96.72" y2="451.5" class="eb"/>
<rect x="90.15" y="455.5" width="7.1" height="58.1" fill="url(#hD)" class="br"/>
<line x1="112.2" y1="457.2" x2="112.2" y2="458.8" class="eb"/>
<line x1="109.18" y1="457.2" x2="115.22" y2="457.2" class="eb"/>
<rect x="108.65" y="458.8" width="7.1" height="54.8" fill="#fff" class="br"/>
<line x1="119.3" y1="455.3" x2="119.3" y2="457.4" class="eb"/>
<line x1="116.28" y1="455.3" x2="122.32" y2="455.3" class="eb"/>
<rect x="115.75" y="457.4" width="7.1" height="56.2" fill="#000" class="br"/>
<line x1="126.4" y1="446.7" x2="126.4" y2="451.7" class="eb"/>
<line x1="123.38" y1="446.7" x2="129.42" y2="446.7" class="eb"/>
<rect x="122.85" y="451.7" width="7.1" height="61.9" fill="url(#hD)" class="br"/>
<line x1="145.3" y1="449.7" x2="145.3" y2="450.7" class="eb"/>
<line x1="142.28" y1="449.7" x2="148.32" y2="449.7" class="eb"/>
<rect x="141.75" y="450.7" width="7.1" height="62.9" fill="#fff" class="br"/>
<line x1="152.4" y1="452.5" x2="152.4" y2="454.2" class="eb"/>
<line x1="149.38" y1="452.5" x2="155.42" y2="452.5" class="eb"/>
<rect x="148.85" y="454.2" width="7.1" height="59.4" fill="#000" class="br"/>
<line x1="159.5" y1="444.8" x2="159.5" y2="450.1" class="eb"/>
<line x1="156.48" y1="444.8" x2="162.52" y2="444.8" class="eb"/>
<rect x="155.95" y="450.1" width="7.1" height="63.5" fill="url(#hD)" class="br"/>
<line x1="177.9" y1="454.1" x2="177.9" y2="457" class="eb"/>
<line x1="174.88" y1="454.1" x2="180.92" y2="454.1" class="eb"/>
<rect x="174.35" y="457" width="7.1" height="56.6" fill="#fff" class="br"/>
<line x1="185" y1="442.4" x2="185" y2="451.7" class="eb"/>
<line x1="181.98" y1="442.4" x2="188.02" y2="442.4" class="eb"/>
<rect x="181.45" y="451.7" width="7.1" height="61.9" fill="#000" class="br"/>
<line x1="192.1" y1="449.2" x2="192.1" y2="453.6" class="eb"/>
<line x1="189.08" y1="449.2" x2="195.12" y2="449.2" class="eb"/>
<rect x="188.55" y="453.6" width="7.1" height="60" fill="url(#hD)" class="br"/>
<line x1="210.7" y1="450.3" x2="210.7" y2="452.1" class="eb"/>
<line x1="207.68" y1="450.3" x2="213.72" y2="450.3" class="eb"/>
<rect x="207.15" y="452.1" width="7.1" height="61.5" fill="#fff" class="br"/>
<line x1="217.8" y1="446" x2="217.8" y2="453.2" class="eb"/>
<line x1="214.78" y1="446" x2="220.82" y2="446" class="eb"/>
<rect x="214.25" y="453.2" width="7.1" height="60.4" fill="#000" class="br"/>
<line x1="224.9" y1="439.9" x2="224.9" y2="447.5" class="eb"/>
<line x1="221.88" y1="439.9" x2="227.92" y2="439.9" class="eb"/>
<rect x="221.35" y="447.5" width="7.1" height="66.1" fill="url(#hD)" class="br"/>
<text transform="translate(87.7,530.38) scale(1,1.07)" class="n" text-anchor="middle">0</text>
<text transform="translate(121.8,530.38) scale(1,1.07)" class="n" text-anchor="middle">0.5</text>
<text transform="translate(156.2,530.38) scale(1,1.07)" class="n" text-anchor="middle">&#8199;</text><g transform="translate(156.2,530.38) scale(1,1.07)" fill="#111" stroke="#111" stroke-width="0.25"><path d="M-0.06 0.00V-7.45Q-0.55 -6.96 -1.16 -6.62Q-1.71 -6.32 -2.17 -6.16V-7.14Q-1.28 -7.51 -0.73 -7.93Q-0.18 -8.36 0.06 -8.60H1.04V0.00Z"/></g>
<text transform="translate(185.5,530.38) scale(1,1.07)" class="n" text-anchor="middle">5</text>
<text transform="translate(218.2,530.38) scale(1,1.07)" class="n" text-anchor="middle">&#8199;0</text><g transform="translate(218.2,530.38) scale(1,1.07)" fill="#111" stroke="#111" stroke-width="0.25"><path d="M-3.53 0.00V-7.45Q-4.02 -6.96 -4.63 -6.62Q-5.18 -6.32 -5.64 -6.16V-7.14Q-4.75 -7.51 -4.20 -7.93Q-3.65 -8.36 -3.41 -8.60H-2.43V0.00Z"/></g>
<text x="156.8" y="542.7" class="t" text-anchor="middle">μg/mL</text>
<text transform="translate(11.1,537.6) rotate(-90)" class="r" style="font-size:13.4px"><tspan font-size="8.5" dy="-5">3</tspan><tspan dy="5">H-thymidine uptake</tspan></text>
<text transform="translate(26.8,537.2) rotate(-90)" class="r" text-anchor="start">(cpm) &#160;x&#8199;0<tspan font-size="8.5" dy="-5">3</tspan></text><g transform="translate(26.8,537.2) rotate(-90)" fill="#111" stroke="#111" stroke-width="0.2"><path d="M51.22 0.00V-7.86Q50.70 -7.35 50.06 -6.99Q49.48 -6.67 49.00 -6.51V-7.54Q49.93 -7.93 50.51 -8.38Q51.09 -8.83 51.35 -9.08H52.39V0.00Z"/></g>
</svg>
</body></html>
